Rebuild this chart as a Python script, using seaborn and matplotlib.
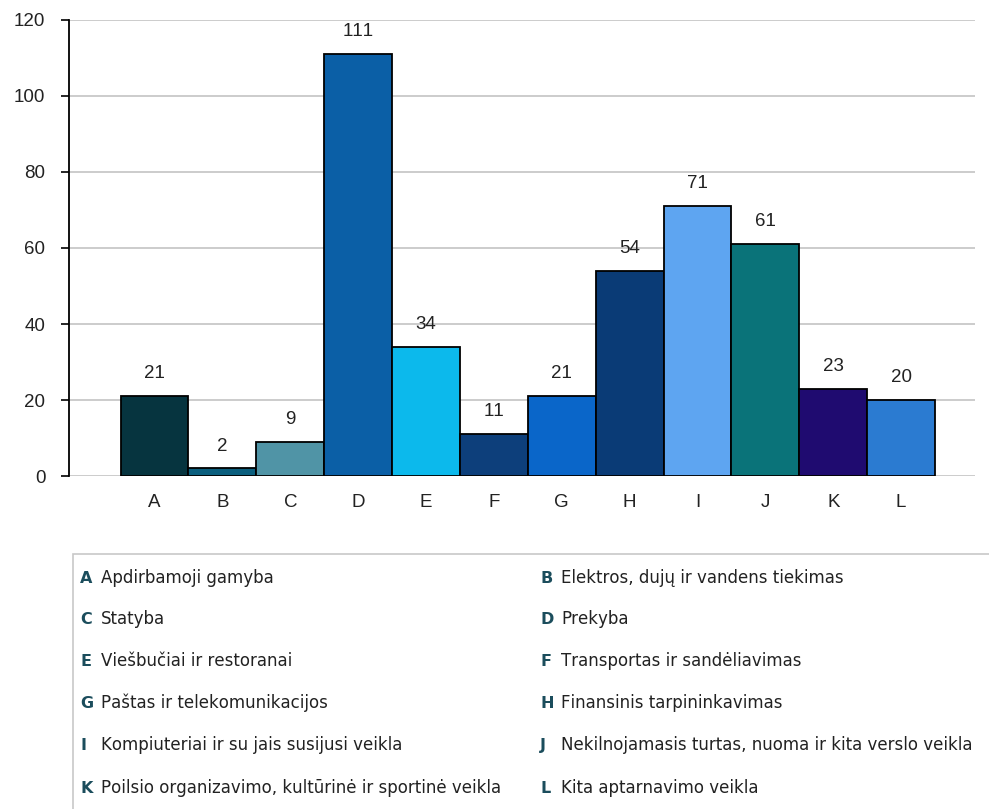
import matplotlib
matplotlib.use("Agg")
import matplotlib.pyplot as plt
from matplotlib.patches import Rectangle
import seaborn as sns
import pandas as pd

codes = ["A", "B", "C", "D", "E", "F", "G", "H", "I", "J", "K", "L"]
counts = [21, 2, 9, 111, 34, 11, 21, 54, 71, 61, 23, 20]
bar_colors = ["#06343f", "#0b5f7e", "#5094a6", "#0b5fa6", "#0cb9ec", "#0d3f7b",
              "#0a66c9", "#0a3b76", "#5ea5f1", "#0a7379", "#1f0b70", "#2b7bd1"]
sectors = [
    "Apdirbamoji gamyba",
    "Elektros, dujų ir vandens tiekimas",
    "Statyba",
    "Prekyba",
    "Viešbučiai ir restoranai",
    "Transportas ir sandėliavimas",
    "Paštas ir telekomunikacijos",
    "Finansinis tarpininkavimas",
    "Kompiuteriai ir su jais susijusi veikla",
    "Nekilnojamasis turtas, nuoma ir kita verslo veikla",
    "Poilsio organizavimo, kultūrinė ir sportinė veikla",
    "Kita aptarnavimo veikla",
]

sns.set_theme(style="white")
plt.rcParams["font.family"] = ["Liberation Sans", "DejaVu Sans"]
plt.rcParams["text.kerning_factor"] = 6

df = pd.DataFrame({"code": codes, "count": counts})

fig = plt.figure(figsize=(9.89, 8.09), dpi=100)
ax = fig.add_axes([0.0698, 0.4116, 0.9162, 0.5637])

sns.barplot(data=df, x="code", y="count", hue="code", palette=bar_colors,
            saturation=1, width=1.0, edgecolor="black", linewidth=1.3,
            legend=False, dodge=False, ax=ax, zorder=3)

for cont in ax.containers:
    ax.bar_label(cont, padding=10, fontsize=13.5, color="#222222")

ax.set_ylim(0, 120)
ax.set_xlim(-1.26, 12.09)
ax.set_yticks(range(0, 121, 20))
ax.yaxis.grid(True, color="#c4c4c4", linewidth=1.2, zorder=0)
ax.set_axisbelow(True)
for side in ["top", "right", "bottom"]:
    ax.spines[side].set_visible(False)
ax.spines["left"].set_color("black")
ax.spines["left"].set_linewidth(1.3)
ax.tick_params(axis="y", length=6, width=1.2, color="black", left=True,
               labelsize=13.5, labelcolor="#222222", pad=11)
ax.tick_params(axis="x", length=0, labelsize=13.5, labelcolor="#222222", pad=13)
ax.set_xlabel("")
ax.set_ylabel("")

# legend box with sector names
fig.add_artist(Rectangle((73 / 989, -0.01), 0.99, 1 - 554 / 809 + 0.01,
                         transform=fig.transFigure, fill=False,
                         edgecolor="#c8c8c8", linewidth=1.2))
baselines = [583, 624, 666, 708, 750, 793]
for i, (code, name) in enumerate(zip(codes, sectors)):
    row, col = divmod(i, 2)
    x_letter = 80 if col == 0 else 540
    y = 1 - baselines[row] / 809
    fig.text(x_letter / 989, y, code, fontsize=11.5, fontweight="bold",
             family="DejaVu Sans", color="#1b4d5c", va="baseline", ha="left")
    fig.text((x_letter + 21) / 989, y, name, fontsize=12, color="#222222",
             family="DejaVu Sans", va="baseline", ha="left")

fig.savefig("out.png", dpi=100)
